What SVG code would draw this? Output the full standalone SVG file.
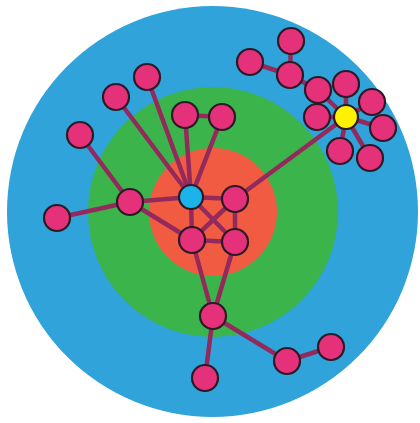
<svg xmlns="http://www.w3.org/2000/svg" width="420" height="423" viewBox="0 0 420 423">
<style>
.e{stroke:#942a5c;stroke-width:4.5;stroke-linecap:round;fill:none}
.n{fill:#e5307a;stroke:#2b1a26;stroke-width:2.2}
.hub{stroke:#2b1a26;stroke-width:2.2}
</style>
<rect width="420" height="423" fill="#ffffff"/>
<g id="rings">
<circle cx="212.5" cy="211.5" r="205.5" fill="#2fa3da"/>
<circle cx="213" cy="212" r="125" fill="#3bb54b"/>
<circle cx="213" cy="212" r="64" fill="#f15b42"/>
</g>
<g id="connectors">
<line class="e" x1="191" y1="197" x2="147" y2="77"/>
<line class="e" x1="191" y1="197" x2="116" y2="97"/>
<line class="e" x1="191" y1="197" x2="185" y2="115"/>
<line class="e" x1="191" y1="197" x2="222" y2="117"/>
<line class="e" x1="185" y1="115" x2="222" y2="117"/>
<line class="e" x1="130" y1="202" x2="80" y2="135"/>
<line class="e" x1="130" y1="202" x2="57" y2="218"/>
<line class="e" x1="130" y1="202" x2="191" y2="197"/>
<line class="e" x1="130" y1="202" x2="192" y2="240"/>
<line class="e" x1="191" y1="197" x2="235" y2="199"/>
<line class="e" x1="191" y1="197" x2="192" y2="240"/>
<line class="e" x1="191" y1="197" x2="235" y2="242"/>
<line class="e" x1="235" y1="199" x2="192" y2="240"/>
<line class="e" x1="235" y1="199" x2="235" y2="242"/>
<line class="e" x1="192" y1="240" x2="235" y2="242"/>
<line class="e" x1="235" y1="199" x2="346" y2="117"/>
<line class="e" x1="192" y1="240" x2="213" y2="316"/>
<line class="e" x1="235" y1="242" x2="213" y2="316"/>
<line class="e" x1="213" y1="316" x2="205" y2="378"/>
<line class="e" x1="213" y1="316" x2="287" y2="361"/>
<line class="e" x1="287" y1="361" x2="331" y2="347"/>
<line class="e" x1="291" y1="41" x2="290" y2="75"/>
<line class="e" x1="250" y1="62" x2="290" y2="75"/>
<line class="e" x1="290" y1="75" x2="318" y2="90"/>
<line class="e" x1="318" y1="90" x2="346" y2="117"/>
<line class="e" x1="346" y1="84" x2="346" y2="117"/>
<line class="e" x1="372" y1="102" x2="346" y2="117"/>
<line class="e" x1="317" y1="117" x2="346" y2="117"/>
<line class="e" x1="383" y1="128" x2="346" y2="117"/>
<line class="e" x1="340" y1="151" x2="346" y2="117"/>
<line class="e" x1="370" y1="158" x2="346" y2="117"/>
</g>
<g id="n-blue"><circle class="hub" cx="191" cy="197" r="12" fill="#1cb2ea"/></g>
<g id="n-yellow"><circle class="hub" cx="346" cy="117" r="12" fill="#fff200"/></g>
<g id="n1"><circle class="n" cx="147" cy="77" r="13"/></g>
<g id="n2"><circle class="n" cx="116" cy="97" r="13"/></g>
<g id="n3"><circle class="n" cx="185" cy="115" r="13"/></g>
<g id="n4"><circle class="n" cx="222" cy="117" r="13"/></g>
<g id="n5"><circle class="n" cx="80" cy="135" r="13"/></g>
<g id="n6"><circle class="n" cx="130" cy="202" r="13"/></g>
<g id="n7"><circle class="n" cx="57" cy="218" r="13"/></g>
<g id="n8"><circle class="n" cx="235" cy="199" r="13"/></g>
<g id="n9"><circle class="n" cx="192" cy="240" r="13"/></g>
<g id="n10"><circle class="n" cx="235" cy="242" r="13"/></g>
<g id="n11"><circle class="n" cx="213" cy="316" r="13"/></g>
<g id="n12"><circle class="n" cx="205" cy="378" r="13"/></g>
<g id="n13"><circle class="n" cx="287" cy="361" r="13"/></g>
<g id="n14"><circle class="n" cx="331" cy="347" r="13"/></g>
<g id="n15"><circle class="n" cx="291" cy="41" r="13"/></g>
<g id="n16"><circle class="n" cx="250" cy="62" r="13"/></g>
<g id="n17"><circle class="n" cx="290" cy="75" r="13"/></g>
<g id="n18"><circle class="n" cx="318" cy="90" r="13"/></g>
<g id="n19"><circle class="n" cx="346" cy="84" r="13"/></g>
<g id="n20"><circle class="n" cx="372" cy="102" r="13"/></g>
<g id="n21"><circle class="n" cx="317" cy="117" r="13"/></g>
<g id="n22"><circle class="n" cx="383" cy="128" r="13"/></g>
<g id="n23"><circle class="n" cx="340" cy="151" r="13"/></g>
<g id="n24"><circle class="n" cx="370" cy="158" r="13"/></g>
</svg>
